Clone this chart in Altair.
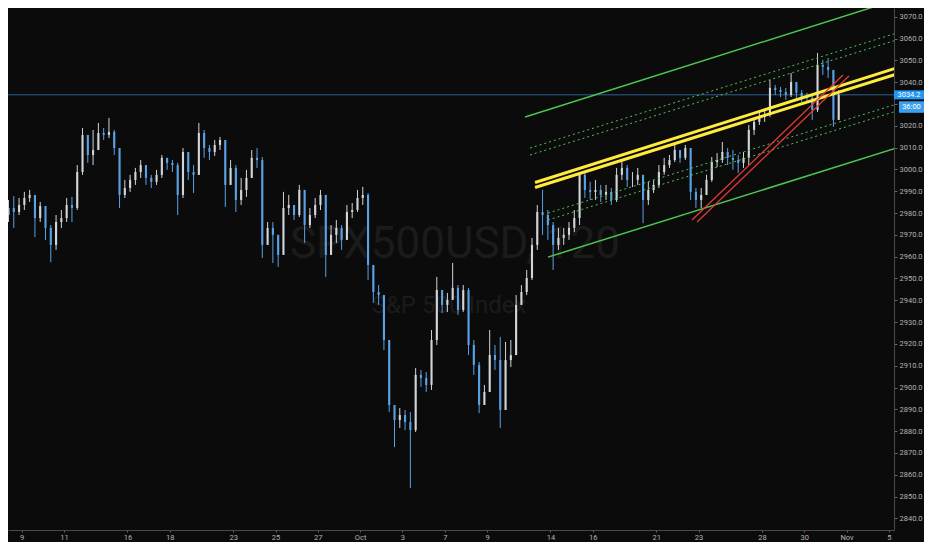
import altair as alt
import pandas as pd

# ---------------- data ----------------
# 4 bars per trading day; trading-day index 0 = Sep 9
start_idx = -1.0
bars_per_day = 4
first_open = 2981.0

close = [
    2979.1, 2982.3, 2980.5, 2983.7, 2986.9, 2988.3, 2977.7, 2983.2, 2973.2, 2965.4,
    2975.9, 2977.7, 2983.7, 2982.3, 2998.8, 3015.8, 3006.6, 3008.9, 3016.7, 3015.8,
    3017.2, 3009.8, 2988.3, 2991.5, 2995.2, 2998.8, 3002.0, 2996.1, 2994.3, 2997.5,
    3005.3, 3003.0, 3002.0, 2988.3, 3008.0, 2998.8, 2997.5, 3016.7, 3009.8, 3008.0,
    3011.2, 3013.5, 2992.9, 3000.7, 2986.0, 2990.6, 2996.1, 3005.3, 3004.3, 2965.4,
    2973.2, 2970.0, 2960.8, 2982.3, 2983.7, 2979.1, 2990.6, 2974.5, 2979.1, 2983.7,
    2988.3, 2960.8, 2970.0, 2973.2, 2967.7, 2980.5, 2981.4, 2986.9, 2988.3, 2956.2,
    2943.8, 2942.4, 2921.8, 2892.0, 2885.1, 2887.4, 2884.2, 2880.5, 2905.8, 2904.4,
    2901.2, 2921.8, 2944.7, 2937.9, 2940.2, 2945.7, 2935.6, 2944.7, 2919.5, 2910.4,
    2892.0, 2898.0, 2914.9, 2912.6, 2889.7, 2912.6, 2914.9, 2937.9, 2943.8, 2950.2,
    2965.4, 2980.5, 2979.1, 2974.5, 2965.4, 2968.6, 2970.0, 2973.2, 2977.7, 2997.5,
    2990.6, 2989.7, 2990.6, 2988.3, 2989.7, 2986.0, 2997.5, 3000.7, 2995.2, 2995.2,
    2997.5, 2986.0, 2990.6, 2992.9, 2998.8, 3002.0, 3004.3, 3008.9, 3005.3, 3009.8,
    2989.7, 2986.0, 2988.3, 2995.2, 3003.4, 3004.3, 3008.0, 3005.3, 3004.3, 3003.0,
    3005.3, 3018.1, 3021.8, 3024.1, 3025.0, 3037.4, 3036.4, 3035.5, 3034.1, 3040.1,
    3035.1, 3033.2, 3032.8, 3027.3, 3047.9, 3047.0, 3045.6, 3022.7, 3034.2,
]
high = [
    2983.7, 2986.0, 2987.8, 2986.9, 2989.7, 2990.6, 2988.3, 2985.1, 2982.8, 2974.5,
    2979.1, 2981.4, 2986.9, 2987.4, 3002.0, 3019.0, 3013.5, 3018.1, 3021.3, 3019.0,
    3023.6, 3018.1, 3008.9, 2995.2, 2997.5, 3000.7, 3004.3, 3002.0, 2997.5, 2999.8,
    3006.6, 3005.3, 3004.3, 3003.0, 3009.8, 3008.0, 3002.0, 3021.3, 3018.1, 3011.2,
    3013.5, 3014.9, 3012.6, 3004.3, 3002.0, 2996.1, 2999.8, 3008.9, 3009.8, 3005.7,
    2975.9, 2975.9, 2967.7, 2989.7, 2988.3, 2983.7, 2992.9, 2990.6, 2982.3, 2986.9,
    2990.6, 2988.3, 2974.5, 2976.8, 2974.5, 2983.7, 2984.6, 2990.6, 2992.0, 2989.2,
    2949.3, 2947.0, 2942.4, 2921.8, 2892.0, 2890.6, 2889.7, 2888.8, 2909.0, 2908.1,
    2907.1, 2926.4, 2950.7, 2942.4, 2943.4, 2957.1, 2947.0, 2947.0, 2945.7, 2921.8,
    2911.7, 2901.2, 2926.4, 2919.5, 2923.2, 2920.9, 2921.8, 2942.4, 2947.0, 2953.9,
    2968.6, 2983.7, 2990.6, 2981.4, 2975.9, 2973.2, 2973.2, 2975.9, 2981.4, 2998.8,
    2998.4, 2994.3, 2995.2, 2992.9, 2992.9, 2991.5, 3000.7, 3004.3, 3002.0, 2998.8,
    3000.7, 2997.5, 2994.3, 2995.2, 3002.0, 3005.3, 3006.6, 3011.2, 3008.9, 3011.2,
    3009.8, 2991.5, 2991.5, 2997.5, 3005.7, 3007.5, 3012.6, 3009.8, 3008.9, 3006.6,
    3008.0, 3020.4, 3023.6, 3026.3, 3027.3, 3041.0, 3038.7, 3037.8, 3037.3, 3044.2,
    3038.7, 3036.4, 3035.1, 3034.1, 3053.4, 3050.2, 3051.1, 3043.3, 3036.4,
]
low = [
    2974.5, 2975.9, 2973.2, 2979.1, 2981.4, 2985.1, 2969.0, 2975.9, 2967.7, 2957.5,
    2963.1, 2973.2, 2975.9, 2975.9, 2981.4, 2997.5, 3003.0, 3002.0, 3011.2, 3013.5,
    3014.4, 3006.6, 2982.3, 2986.9, 2989.7, 2992.9, 2996.1, 2992.9, 2991.5, 2992.9,
    2996.1, 2999.8, 2998.8, 2979.1, 2986.9, 2995.2, 2989.2, 2999.8, 3005.3, 3004.3,
    3006.2, 3008.9, 2982.8, 2995.2, 2980.5, 2983.7, 2987.4, 2999.8, 3000.7, 2959.4,
    2965.4, 2957.1, 2955.3, 2960.8, 2979.1, 2976.8, 2978.2, 2966.3, 2973.2, 2977.7,
    2981.4, 2950.7, 2960.8, 2966.3, 2963.1, 2967.7, 2977.7, 2980.5, 2983.7, 2949.3,
    2938.8, 2937.9, 2917.2, 2888.8, 2872.7, 2881.5, 2880.5, 2853.9, 2879.6, 2900.3,
    2898.0, 2898.9, 2919.5, 2934.2, 2934.6, 2940.2, 2933.3, 2934.6, 2914.9, 2905.8,
    2888.3, 2893.4, 2898.0, 2908.1, 2881.5, 2896.6, 2909.4, 2914.9, 2937.9, 2942.4,
    2949.3, 2963.1, 2970.0, 2967.7, 2953.9, 2963.1, 2965.4, 2967.7, 2971.3, 2974.5,
    2986.9, 2986.0, 2986.0, 2985.1, 2986.0, 2983.7, 2985.1, 2995.2, 2991.9, 2991.9,
    2992.9, 2975.4, 2983.7, 2989.2, 2991.5, 2997.5, 3000.7, 3003.4, 3003.0, 3004.3,
    2986.0, 2982.3, 2982.3, 2988.3, 2994.3, 3001.1, 3003.0, 3002.0, 2999.8, 2998.4,
    3000.7, 3002.0, 3015.8, 3020.4, 3021.8, 3024.1, 3034.1, 3033.2, 3031.9, 3033.2,
    3032.8, 3030.9, 3030.5, 3022.7, 3026.3, 3043.3, 3041.9, 3019.5, 3023.6,
]

# x-axis: trading-day index of each labelled day
tick_pos = [0, 2, 5, 7, 10, 12, 14, 16, 18, 20, 22, 25, 27, 30, 32, 35, 37, 39, 41]
tick_labels = ["9", "11", "16", "18", "23", "25", "27", "Oct", "3", "7",
               "9", "14", "16", "21", "23", "28", "30", "Nov", "5"]
price_ticks = list(range(2840, 3071, 10))

last_price = 3034.2
countdown = "36:00"
watermark_title = "SPX500USD, 120"
watermark_sub = "S&P 500 Index"

# drawn lines: [x_start, x_end], [price_start, price_end]
green_solid_x = [[24.88, 41.81], [23.80, 41.81]]
green_solid_p = [[2959.8, 3011.2], [3024.0, 3079.2]]
green_dot_x = [[24.03, 41.81], [24.03, 41.81], [24.88, 41.81], [24.88, 41.81]]
green_dot_p = [[3009.8, 3063.9], [3006.6, 3060.7], [2980.0, 3031.3], [2976.8, 3028.1]]
yellow_x = [[24.27, 41.81], [24.27, 41.81]]
yellow_p = [[2994.0, 3047.9], [2991.7, 3045.1]]
red_x = [[31.69, 38.83], [31.93, 39.11]]
red_p = [[2976.8, 3043.3], [2975.9, 3042.8]]

# ---------------- build tables ----------------
rows = []
prev = first_open
for i, c in enumerate(close):
    t = start_idx + i / bars_per_day + 0.5 / bars_per_day
    o = prev
    rows.append({
        "t": t, "t0": t - 0.05, "t1": t + 0.05,
        "open": o, "close": c,
        "high": max(high[i], o, c), "low": min(low[i], o, c),
        "dir": "up" if c >= o else "down",
    })
    prev = c
candles = pd.DataFrame(rows)


def lines_df(xs, ps, name):
    r = []
    for k, (xx, pp) in enumerate(zip(xs, ps)):
        for a, b in zip(xx, pp):
            r.append({"id": f"{name}{k}", "x": a, "p": b})
    return pd.DataFrame(r)


X_DOMAIN = [-0.648, 41.24]
Y_DOMAIN = [2834.7, 3074.0]
W, H = 886, 522
RIGHT, BOTTOM = 30, 12

label_expr = "[" + ",".join(f"'{s}'" for s in tick_labels) + "][indexof([" + \
    ",".join(str(v) for v in tick_pos) + "], datum.value)]"
# the axis label hidden behind the countdown box
ylabel_expr = f"(datum.value > {last_price} - 8 && datum.value < {last_price}) ? '' : format(datum.value, '.1f')"

FONT = "Liberation Sans Narrow, Roboto, sans-serif"
xaxis = alt.Axis(values=tick_pos, labelExpr=label_expr, title=None, grid=False,
                 tickSize=2, labelFontSize=7.5, labelColor="#b4b4b4", tickColor="#666",
                 domainColor="#4a4a4a", labelPadding=1, labelOverlap=False, labelFlush=False,
                 labelFont=FONT)
yaxis = alt.Axis(values=price_ticks, labelExpr=ylabel_expr, orient="right", title=None, grid=False,
                 tickSize=3, labelFontSize=7.5, labelColor="#b4b4b4", tickColor="#666",
                 domainColor="#4a4a4a", labelPadding=2, labelFont=FONT)
xscale = alt.Scale(domain=X_DOMAIN, nice=False, zero=False)
yscale = alt.Scale(domain=Y_DOMAIN, nice=False, zero=False)


def X(f):
    return alt.X(f, type="quantitative", scale=xscale, axis=xaxis)


def Y(f):
    return alt.Y(f, type="quantitative", scale=yscale, axis=yaxis)


color = alt.Color("dir:N", scale=alt.Scale(domain=["up", "down"], range=["#d2d4d8", "#5aa2e6"]),
                  legend=None)

wm1 = alt.Chart(pd.DataFrame({"t": [watermark_title]})).mark_text(
    fontSize=44, font="Roboto", color="#1b1b1b", align="center", baseline="alphabetic"
).encode(x=alt.value(447), y=alt.value(250), text="t:N")
wm2 = alt.Chart(pd.DataFrame({"t": [watermark_sub]})).mark_text(
    fontSize=24, font="Roboto", color="#1b1b1b", align="center", baseline="alphabetic"
).encode(x=alt.value(441), y=alt.value(305), text="t:N")

price_df = pd.DataFrame({"p": [last_price], "lab": [f"{last_price:.1f}"], "cd": [countdown]})
hline = alt.Chart(price_df).mark_rule(color="#2c5f92", strokeWidth=1).encode(y=Y("p"))

wicks = alt.Chart(candles).mark_rule(strokeWidth=1, clip=True).encode(
    x=X("t"), y=Y("low"), y2="high", color=color)
bodies = alt.Chart(candles).mark_rect(clip=True).encode(
    x=X("t0"), x2="t1", y=Y("open"), y2="close", color=color)

g_solid = alt.Chart(lines_df(green_solid_x, green_solid_p, "gs")).mark_line(
    color="#4cc552", strokeWidth=1.5, clip=True).encode(x=X("x"), y=Y("p"), detail="id:N")
g_dot = alt.Chart(lines_df(green_dot_x, green_dot_p, "gd")).mark_line(
    color="#4cc552", strokeWidth=1, strokeDash=[2, 3], clip=True).encode(x=X("x"), y=Y("p"), detail="id:N")
yel = alt.Chart(lines_df(yellow_x, yellow_p, "y")).mark_line(
    color="#ffeb3b", strokeWidth=3, clip=True).encode(x=X("x"), y=Y("p"), detail="id:N")
red = alt.Chart(lines_df(red_x, red_p, "r")).mark_line(
    color="#e53935", strokeWidth=1.3, clip=True).encode(x=X("x"), y=Y("p"), detail="id:N")

box1 = alt.Chart(price_df).mark_rect(color="#2196f3", yOffset=-4.5, y2Offset=4.5).encode(
    x=alt.value(W), x2=alt.value(W + RIGHT), y=Y("p"), y2="p")
txt1 = alt.Chart(price_df).mark_text(color="#ffffff", fontSize=7.5, font=FONT, align="center",
                                     baseline="middle").encode(
    x=alt.value(W + RIGHT / 2), y=Y("p"), text="lab:N")
box2 = alt.Chart(price_df).mark_rect(color="#3d9ff0", yOffset=6.5, y2Offset=18).encode(
    x=alt.value(W + 5), x2=alt.value(W + RIGHT), y=Y("p"), y2="p")
txt2 = alt.Chart(price_df).mark_text(color="#ffffff", fontSize=7.5, font=FONT, align="center",
                                     baseline="middle", dy=12).encode(
    x=alt.value(W + 5 + (RIGHT - 5) / 2), y=Y("p"), text="cd:N")

chart = alt.layer(
    wm1, wm2, hline, wicks, bodies, g_solid, g_dot, yel, red, box1, txt1, box2, txt2
).properties(
    width=W, height=H, background="#0b0b0b",
    padding={"left": 0, "top": 0, "right": RIGHT, "bottom": BOTTOM},
    autosize=alt.AutoSizeParams(type="none"),
).configure_view(stroke=None, fill="#0b0b0b")

chart.save("out.html", embed_options={"renderer": "svg", "actions": False})
